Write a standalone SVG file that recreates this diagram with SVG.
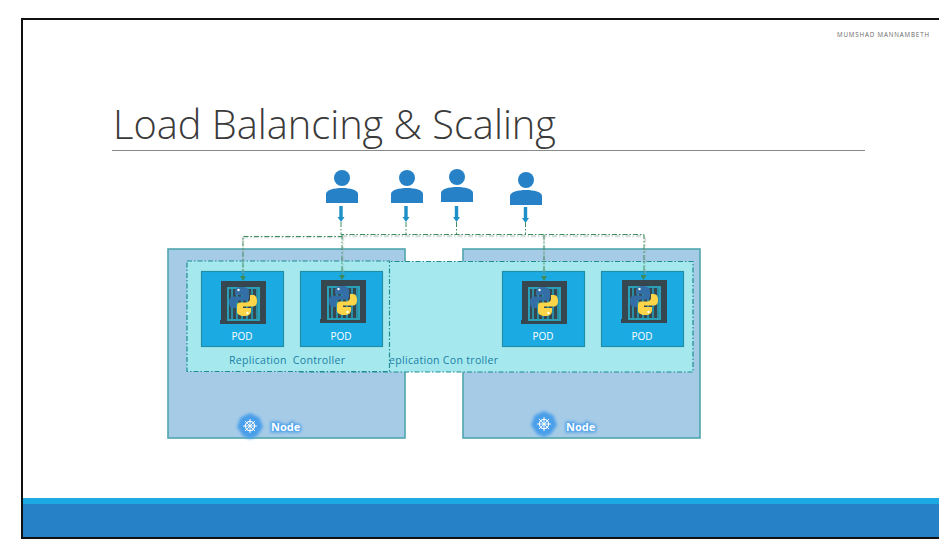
<svg xmlns="http://www.w3.org/2000/svg" width="939" height="552" viewBox="0 0 939 552">
<style>
text{font-family:"Open Sans","Liberation Sans",sans-serif}
.node{fill:#a6cbe7;stroke:#4fa6ad;stroke-width:1.6}
.rc{fill:#a5e9ee;stroke:#1f8c93;stroke-width:1.2;stroke-dasharray:5 2 1.5 2}
.pod{fill:#1caae3;stroke:#1f8fa8;stroke-width:1.2}
.podt{fill:#fff;font-size:10px;text-anchor:middle}
.rct{fill:#1c7fa6;font-size:10.6px}
.user{fill:#2681c6}
.inb{fill:#1d90c8}
.g{fill:none;stroke:#3f8f5f;stroke-width:1;stroke-dasharray:5 2 1.5 2}
.gs{fill:none;stroke:#9aa;stroke-width:2.4;stroke-dasharray:5 2 1.5 2;opacity:.4}
.ngl{fill:#fff;font-size:11px;font-weight:700}
</style>
<defs>
<filter id="glow" x="-40%" y="-60%" width="180%" height="220%"><feGaussianBlur stdDeviation="1.6"/></filter>
<g id="person">
<circle cx="0" cy="-16" r="8"/>
<path d="M-16 9V0C-16 -4 -8 -6 0 -6S16 -4 16 0V9Z"/>
</g>
<g id="inarrow" class="inb"><path d="M-1.700 0H1.700V11H3.500L0 16L-3.500 11H-1.700Z"/></g>
<g id="pyicon">
<path d="M0 0H45V43H-1V39H0Z" fill="#36474f"/>
<rect x="6" y="6" width="33" height="34" fill="#2a9fb8"/>
<rect x="8" y="8" width="29" height="30" fill="#36474f"/>
<path d="M11 8V38M16 8V38M21 8V38M26 8V38M31 8V38M36 8V38" stroke="#2a9fb8" stroke-width="1.600"/>
<path d="M21 6C16 6 14 8 14 11V14H22V15.500H12C9 15.500 8 18 8 21S9 27 12 27H15V23C15 21 17 19.500 19 19.500H25C27 19.500 28 18 28 16V10C28 8 25 6 21 6Z" fill="#336fa6"/>
<path d="M23 35C28 35 30 33 30 30V27H22V25.500H32C35 25.500 36 23 36 20S35 14 32 14H29V18C29 20 27 21.500 25 21.500H19C17 21.500 16 23 16 25V31C16 33 19 35 23 35Z" fill="#fcd548"/>
<circle cx="17.500" cy="9" r="1.200" fill="#fff"/><circle cx="26.500" cy="32" r="1.200" fill="#fff"/>
</g>
<g id="wheel" fill="none" stroke="#fff">
<circle r="4.600" stroke-width="1.200"/>
<path d="M0 -7V7M-7 0H7M-5 -5L5 5M-5 5L5 -5" stroke-width=".9"/>
<circle r="1.300" fill="#fff" stroke="none"/>
</g>
<path id="halo" d="M0 -13L9.500 -8.500L13 1L7 10L0 13L-7 10L-13 1L-9.500 -8.500Z" fill="#4a9fea" filter="url(#glow)"/>
</defs>

<rect width="939" height="552" fill="#fff"/>
<g id="frame">
<rect x="22" y="498" width="917" height="6" fill="#1caae3"/>
<rect x="22" y="504" width="917" height="33" fill="#2681c6"/>
<path d="M939 19H22V538H939" fill="none" stroke="#111" stroke-width="2"/>
</g>
<text x="837" y="37" font-size="6.200" fill="#666" textLength="92">MUMSHAD  MANNAMBETH</text>
<text x="113" y="139" font-size="41" font-weight="300" fill="#3a3a3a" textLength="443" lengthAdjust="spacingAndGlyphs">Load Balancing &amp; Scaling</text>
<line x1="112" y1="150.500" x2="865" y2="150.500" stroke="#8a8a8a" stroke-width="1"/>

<g id="node-left">
<rect class="node" x="168" y="249" width="237" height="189"/>
<use href="#halo" x="250" y="426"/>
<use href="#wheel" x="250" y="426"/>
<text class="ngl" x="271" y="431" fill="#4a9fea" stroke="#4a9fea" stroke-width="3" filter="url(#glow)">Node</text>
<text class="ngl" x="271" y="431">Node</text>
</g>
<g id="node-right">
<rect class="node" x="463" y="249" width="237" height="189"/>
<use href="#halo" x="544" y="424"/>
<use href="#wheel" x="544" y="424"/>
<text class="ngl" x="566" y="431" fill="#4a9fea" stroke="#4a9fea" stroke-width="3" filter="url(#glow)">Node</text>
<text class="ngl" x="566" y="431">Node</text>
</g>
<g id="rc-right">
<rect class="rc" x="300" y="261.500" width="393" height="110.500"/>
<text class="rct" x="389" y="364" textLength="109" xml:space="preserve">eplication Con troller</text>
</g>
<g id="rc-left">
<rect class="rc" x="187" y="261" width="202.500" height="110.500"/>
<text class="rct" x="229" y="364" textLength="116" xml:space="preserve">Replication  Controller</text>
</g>
<g id="pod-1"><rect class="pod" x="201.500" y="271.500" width="82" height="75"/><use href="#pyicon" x="221" y="281"/><text class="podt" x="242" y="340">POD</text></g>
<g id="pod-2"><rect class="pod" x="300.500" y="271.500" width="82" height="75"/><use href="#pyicon" x="321" y="280"/><text class="podt" x="341" y="340">POD</text></g>
<g id="pod-3"><rect class="pod" x="502.500" y="271.500" width="82" height="75"/><use href="#pyicon" x="522" y="281"/><text class="podt" x="543" y="340">POD</text></g>
<g id="pod-4"><rect class="pod" x="601.500" y="271.500" width="82" height="75"/><use href="#pyicon" x="622" y="280"/><text class="podt" x="642" y="340">POD</text></g>

<g id="user-1" class="user"><use href="#person" x="342" y="194"/></g>
<g id="user-2" class="user"><use href="#person" x="407" y="194"/></g>
<g id="user-3" class="user"><use href="#person" x="457" y="193"/></g>
<g id="user-4" class="user"><use href="#person" x="526" y="196"/></g>

<g id="connectors">
<use href="#inarrow" x="341" y="206"/>
<use href="#inarrow" x="406" y="206"/>
<use href="#inarrow" x="456.500" y="206"/>
<use href="#inarrow" x="525.500" y="207"/>
<path class="gs" d="M243 237H342M342 236H645V278M544 236V278M243 237V278M343 236V278"/>
<path class="g" d="M243 278V236.500H342"/>
<path class="g" d="M341 222V234.500H644V278"/>
<path class="g" d="M342 234.500V278"/>
<path class="g" d="M406 222V234.500"/>
<path class="g" d="M456.500 222V234.500"/>
<path class="g" d="M525.500 222V234.500"/>
<path class="g" d="M544 234.500V278"/>
<path d="M240 276H246L243 281Z M339 275H345L342 280Z M541 276H547L544 281Z M640.500 275H646.500L643.500 280Z" fill="#3b8a5c"/>
</g>
</svg>
